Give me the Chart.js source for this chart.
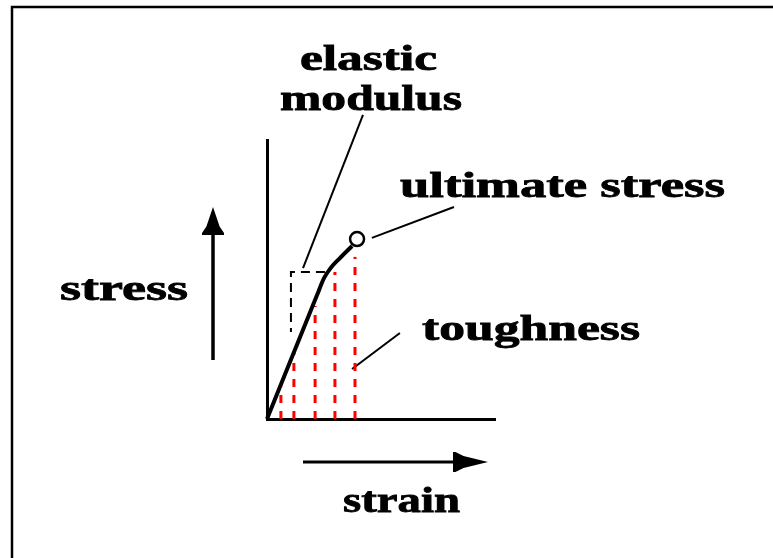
<!DOCTYPE html>
<html><head><meta charset="utf-8">
<script src="https://cdn.jsdelivr.net/npm/chart.js@4.4.1/dist/chart.umd.min.js"></script>
<style>html,body{margin:0;padding:0;background:#fff;}canvas{display:block;background:#fff}</style>
</head><body>
<canvas id="c" width="773" height="558"></canvas>
<script>
// stress–strain curve (arbitrary units, strain 0..10, stress 0..10)
const curveStrain = [0, 2.2, 2.5, 2.8, 3.2, 3.73];
const curveStress = [0, 4.45, 5.05, 5.42, 5.77, 6.2];
// ultimate stress point
const ultimateStrain = [3.95];
const ultimateStress = [6.45];
// toughness (area under curve) hatch lines
const toughStrain = [0.61, 1.18, 2.11, 2.98, 3.86];
const toughTop = [1.18, 2.40, 4.05, 5.27, 5.81];
// elastic-modulus tangent construction
const tangentStrain = [2.54, 1.05, 1.05];
const tangentStress = [5.27, 5.27, 3.12];
// leader lines from marks to labels
const leaderFromStrain = [1.58, 4.6, 3.73];
const leaderFromStress = [5.41, 6.49, 1.79];
const leaderToStrain = [4.21, 8.2, 5.83];
const leaderToStress = [10.9, 7.6, 3.08];
// texts
const labelLines = ['elastic', 'modulus', 'ultimate stress', 'toughness'];
const axisLabels = ['stress', 'strain'];

const FONT = 'bold 36px "Liberation Serif"';

const datasets = [];
datasets.push({
  data: curveStrain.map((x, i) => ({x, y: curveStress[i]})),
  showLine: true, borderColor: '#000', borderWidth: 4, pointRadius: 0, clip: false,
  tension: 0.3, cubicInterpolationMode: 'monotone'
});
toughStrain.forEach((x, i) => {
  datasets.push({
    data: [{x, y: 0}, {x, y: toughTop[i]}],
    showLine: true, borderColor: '#ff0000', borderWidth: 3, borderDash: [8, 8], pointRadius: 0, clip: false
  });
});
datasets.push({
  data: tangentStrain.map((x, i) => ({x, y: tangentStress[i]})),
  showLine: true, borderColor: '#000', borderWidth: 2, borderDash: [9, 6], pointRadius: 0, clip: false
});
leaderFromStrain.forEach((x, i) => {
  datasets.push({
    data: [{x, y: leaderFromStress[i]}, {x: leaderToStrain[i], y: leaderToStress[i]}],
    showLine: true, borderColor: '#000', borderWidth: 2, pointRadius: 0, clip: false
  });
});
datasets.push({
  data: ultimateStrain.map((x, i) => ({x, y: ultimateStress[i]})),
  showLine: false, pointRadius: 7, pointStyle: 'circle', pointBorderWidth: 2.5,
  pointBorderColor: '#000', pointBackgroundColor: '#fff', clip: false
});

function arrowHead(ctx, tipX, tipY, dir, len, hw) {
  ctx.save();
  ctx.translate(tipX, tipY);
  ctx.rotate(dir);
  ctx.beginPath();
  ctx.moveTo(0, 0);
  ctx.lineTo(-len * 0.7, hw * 0.6);
  ctx.lineTo(-len * 0.93, hw);
  ctx.lineTo(-len, hw);
  ctx.lineTo(-len, -hw);
  ctx.lineTo(-len * 0.93, -hw);
  ctx.lineTo(-len * 0.7, -hw * 0.6);
  ctx.closePath();
  ctx.fill();
  ctx.restore();
}
function fitText(ctx, str, left, right, baseline) {
  ctx.save();
  ctx.font = FONT;
  ctx.fillStyle = '#000';
  ctx.strokeStyle = '#000';
  ctx.lineWidth = 0.8;
  ctx.textBaseline = 'alphabetic';
  ctx.textAlign = 'left';
  const w = ctx.measureText(str).width;
  ctx.translate(left, baseline);
  ctx.scale((right - left) / w, 1);
  ctx.fillText(str, 0, 0);
  ctx.strokeText(str, 0, 0);
  ctx.restore();
}

const decor = {
  id: 'decor',
  afterDraw(chart) {
    const ctx = chart.ctx;
    const ca = chart.chartArea;
    const L = ca.left, B = ca.bottom;
    ctx.save();
    ctx.strokeStyle = '#000';
    ctx.fillStyle = '#000';
    // frame
    ctx.lineWidth = 2.5;
    ctx.beginPath();
    ctx.moveTo(12, chart.height);
    ctx.lineTo(12, 7);
    ctx.lineTo(chart.width, 7);
    ctx.stroke();
    // stress arrow
    ctx.lineWidth = 3.5;
    ctx.beginPath();
    ctx.moveTo(L - 54, B - 59);
    ctx.lineTo(L - 54, B - 200);
    ctx.stroke();
    arrowHead(ctx, L - 54, B - 212, -Math.PI / 2, 28, 11);
    // strain arrow
    ctx.lineWidth = 3;
    ctx.beginPath();
    ctx.moveTo(L + 36, B + 43);
    ctx.lineTo(L + 200, B + 43);
    ctx.stroke();
    arrowHead(ctx, L + 221, B + 43, 0, 35, 10);
    // texts
    fitText(ctx, labelLines[0], 300, 437, 70);
    fitText(ctx, labelLines[1], 280, 462, 110);
    fitText(ctx, labelLines[2], 400, 725, 197);
    fitText(ctx, labelLines[3], 422, 640, 340);
    fitText(ctx, axisLabels[0], 60, 188, 300);
    fitText(ctx, axisLabels[1], 343, 460, 512);
    ctx.restore();
  }
};

const axisOpts = {
  type: 'linear', min: 0, max: 10,
  grid: {display: false, drawTicks: false, tickLength: 0},
  ticks: {display: false},
  border: {display: true, color: '#000', width: 3}
};

function build() {
  new Chart(document.getElementById('c'), {
    type: 'scatter',
    data: {datasets},
    options: {
      responsive: false,
      animation: false,
      layout: {padding: {left: 267, top: 140, right: 278, bottom: 139}},
      plugins: {legend: {display: false}, tooltip: {enabled: false}},
      scales: {x: axisOpts, y: axisOpts}
    },
    plugins: [decor]
  });
}
if (document.fonts && document.fonts.load) {
  document.fonts.load(FONT).then(build, build);
} else {
  build();
}
</script>
</body></html>
